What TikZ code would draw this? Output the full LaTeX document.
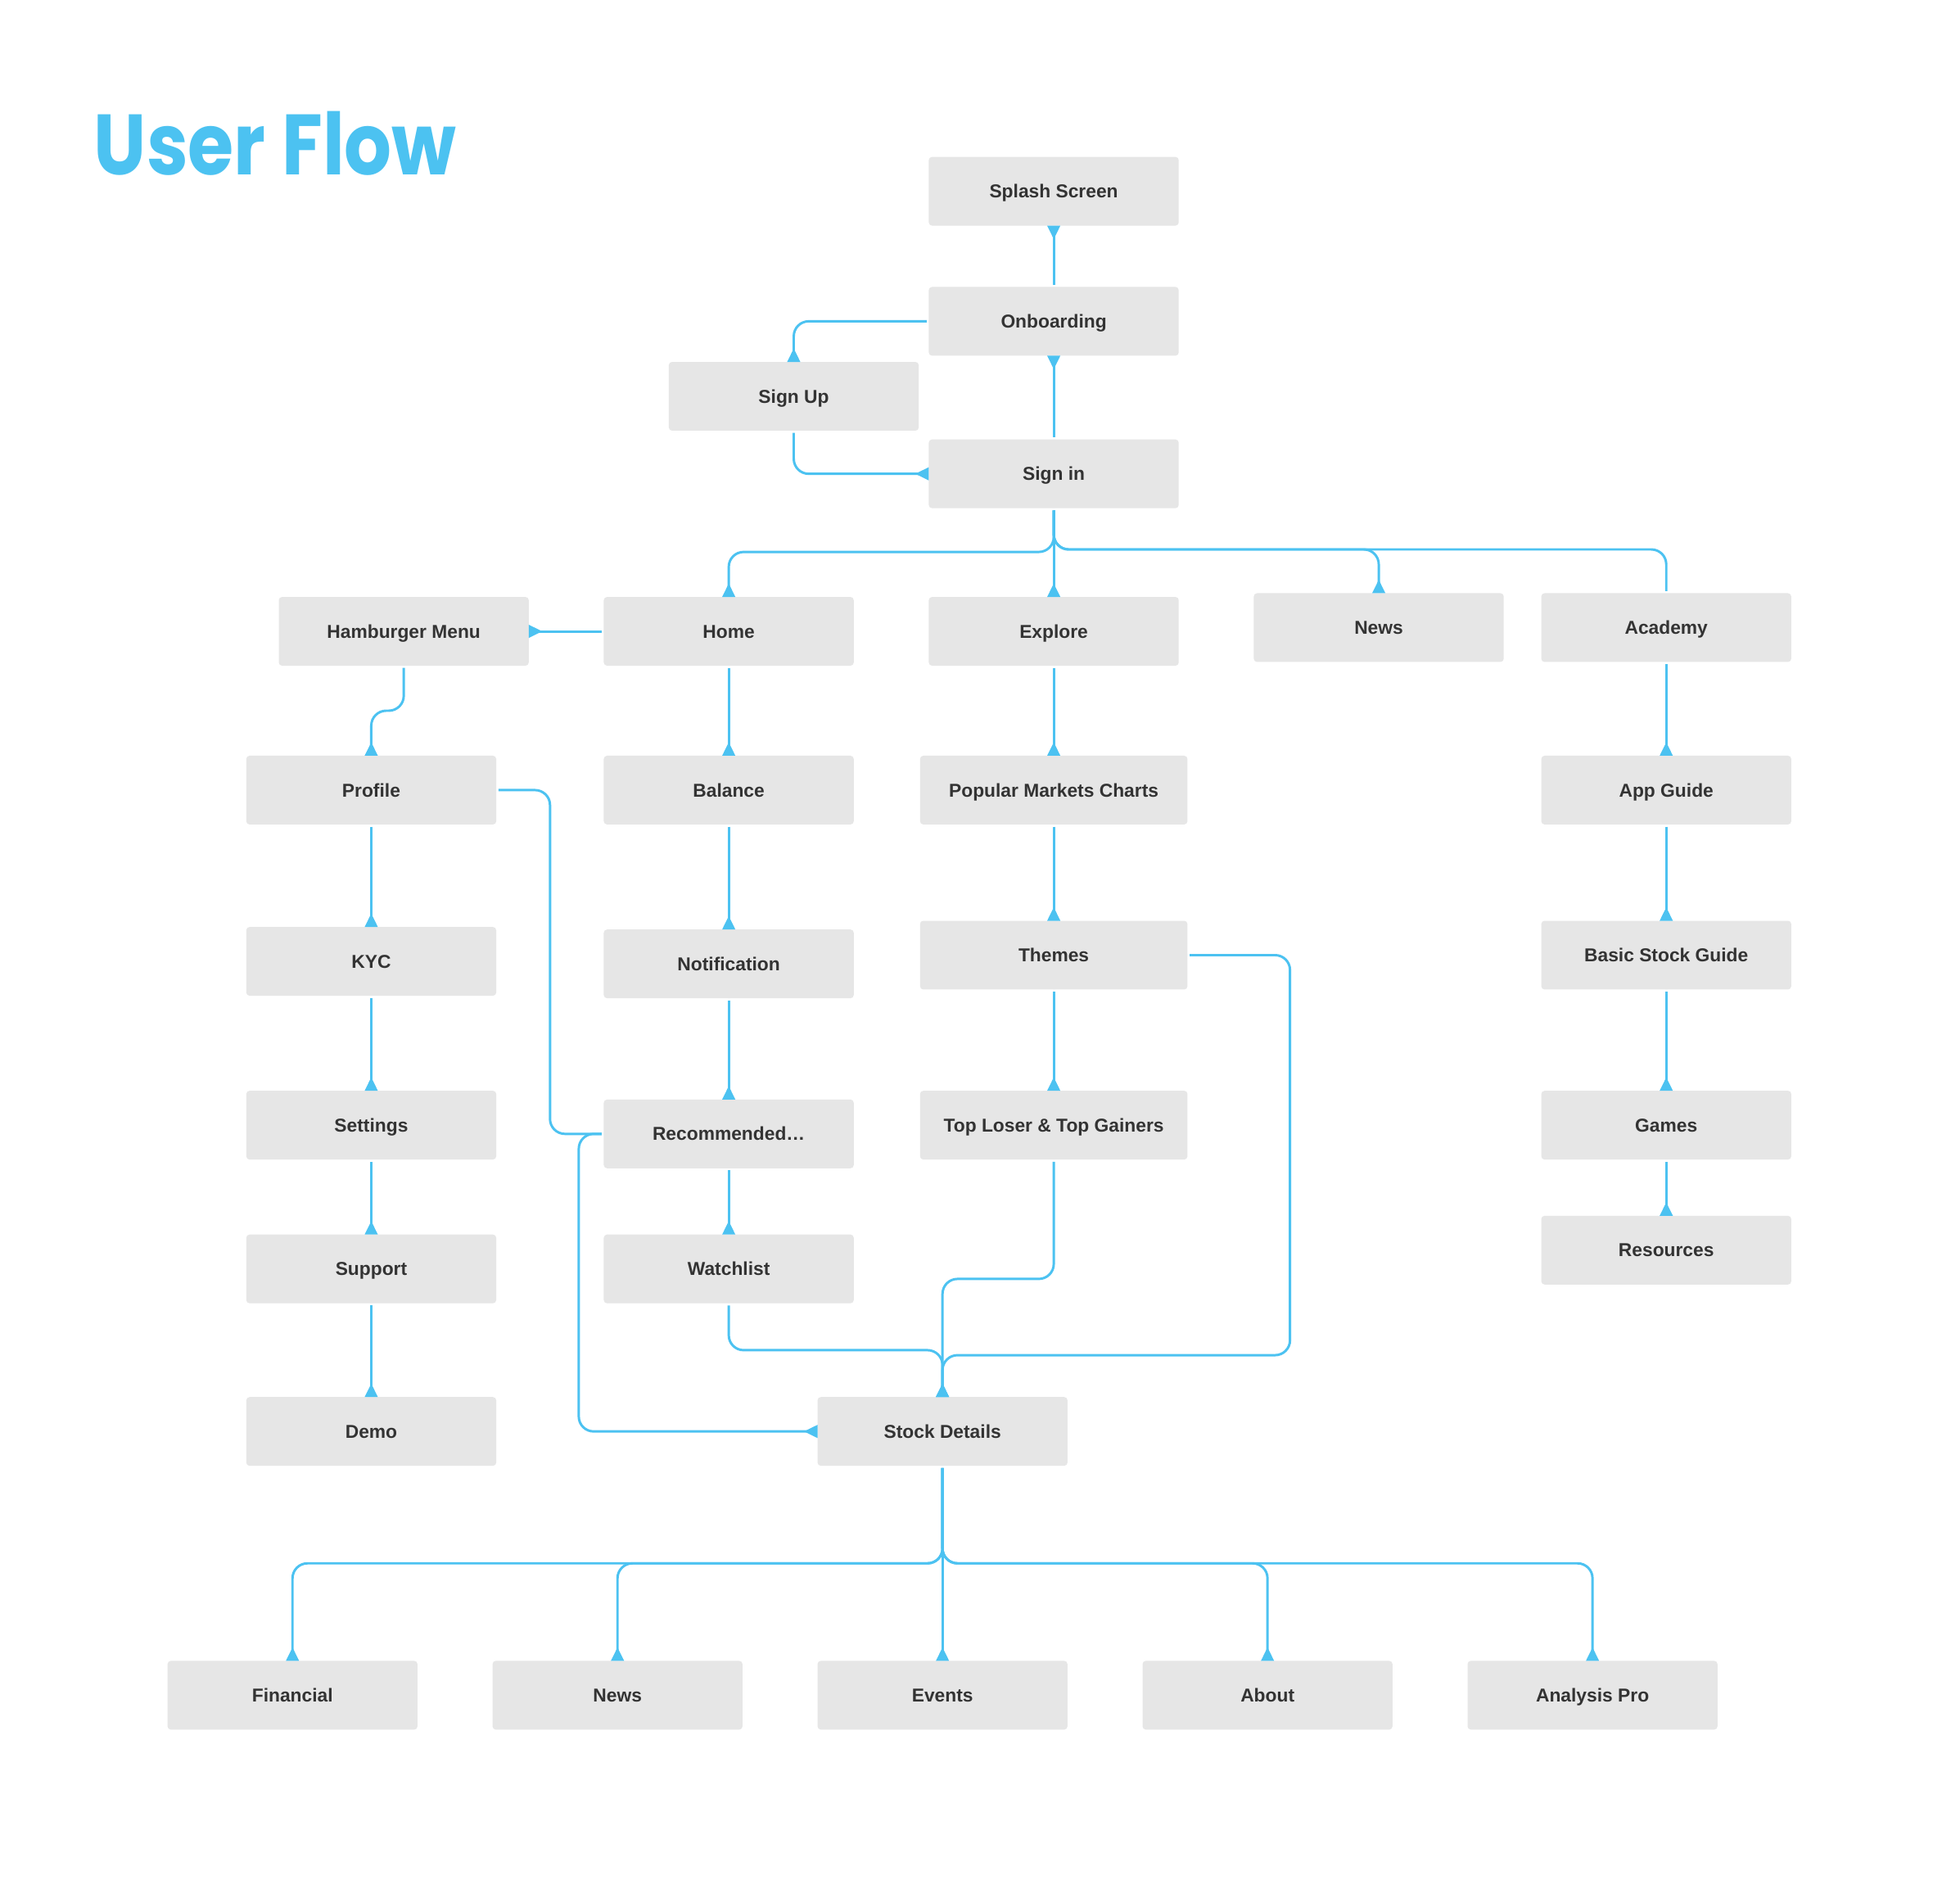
\documentclass[tikz,border=0pt]{standalone}
\usepackage{fontspec}
\setmainfont{Liberation Sans}
\newfontfamily\titlefont{Poppins}
\usetikzlibrary{arrows.meta}

\definecolor{flowblue}{HTML}{4CC2F1}
\definecolor{boxgray}{HTML}{E6E6E6}
\definecolor{labelgray}{HTML}{333333}

\begin{document}
\begin{tikzpicture}[x=0.02cm, y=-0.02cm,
    screen/.style={rectangle, rounded corners=1.5pt, fill=boxgray, minimum width=4cm, minimum height=1.1cm,
        inner sep=0pt, outer sep=0pt, text height=6.1pt, text depth=0pt, text=labelgray,
        font=\fontsize{8.5}{10}\selectfont\bfseries},
    wide/.style={screen, minimum width=4.28cm},
    link/.style={draw=flowblue, line width=1.1pt, rounded corners=6.8pt, shorten <=1pt, shorten >=1pt},
    flow/.style={link, shorten >=0pt, -{Triangle[reversed, length=6.2pt, width=5.7pt]}}]

    % Page
    \fill[white] (0,0) rectangle (1568,1511);
    \useasboundingbox (0,0) rectangle (1568,1511);

    % Title
    \node[anchor=base west, inner sep=0pt, text=flowblue, font=\titlefont\fontsize{39}{40}\selectfont\bfseries,
        xscale=0.87, transform shape] (title) at (75,140) {User Flow};

    % Sign in
    \node[screen] (splash) at (843,153) {Splash Screen};
    \node[screen] (onboard) at (843,257) {Onboarding};
    \node[screen] (signup) at (635,317) {Sign Up};
    \node[screen] (signin) at (843,379) {Sign in};

    % Main tabs
    \node[screen] (hamburger) at (323,505) {Hamburger Menu};
    \node[screen] (home) at (583,505) {Home};
    \node[screen] (explore) at (843,505) {Explore};
    \node[screen] (news) at (1103,502) {News};
    \node[screen] (academy) at (1333,502) {Academy};

    % Hamburger menu
    \node[screen] (profile) at (297,632) {Profile};
    \node[screen] (kyc) at (297,769) {KYC};
    \node[screen] (settings) at (297,900) {Settings};
    \node[screen] (support) at (297,1015) {Support};
    \node[screen] (demo) at (297,1145) {Demo};

    % Home
    \node[screen] (balance) at (583,632) {Balance};
    \node[screen] (notify) at (583,771) {Notification};
    \node[screen] (recommend) at (583,907) {Recommended…};
    \node[screen] (watchlist) at (583,1015) {Watchlist};

    % Explore
    \node[wide] (markets) at (843,632) {Popular Markets Charts};
    \node[wide] (themes) at (843,764) {Themes};
    \node[wide] (movers) at (843,900) {Top Loser \& Top Gainers};

    % Academy
    \node[screen] (appguide) at (1333,632) {App Guide};
    \node[screen] (stockguide) at (1333,764) {Basic Stock Guide};
    \node[screen] (games) at (1333,900) {Games};
    \node[screen] (resources) at (1333,1000) {Resources};

    % Stock details
    \node[screen] (stock) at (754,1145) {Stock Details};
    \node[screen] (financial) at (234,1356) {Financial};
    \node[screen] (stocknews) at (494,1356) {News};
    \node[screen] (events) at (754,1356) {Events};
    \node[screen] (about) at (1014,1356) {About};
    \node[screen] (analysis) at (1274,1356) {Analysis Pro};

    % Sign in links
    \draw[flow] (onboard.north) -- (splash.south);
    \draw[flow] (signin.north) -- (onboard.south);
    \draw[flow] (onboard.west) -| (signup.north);
    \draw[flow] (signup.south) |- (signin.west);

    % Tabs
    \draw[flow] (signin.south) -- ++(0,35) -| (home.north);
    \draw[flow] (signin.south) -- (explore.north);
    \draw[flow] (signin.south) -- ++(0,33) -| (news.north);
    \draw[link] (signin.south) -- ++(0,33) -| (academy.north);

    % Hamburger menu links
    \draw[flow] (home.west) -- (hamburger.east);
    \draw[flow] (hamburger.south) -- ++(0,36) -| (profile.north);
    \draw[flow] (profile.south) -- (kyc.north);
    \draw[flow] (kyc.south) -- (settings.north);
    \draw[flow] (settings.south) -- (support.north);
    \draw[flow] (support.south) -- (demo.north);
    \draw[link] (profile.east) -- (440,632) |- (recommend.west);

    % Home links
    \draw[flow] (home.south) -- (balance.north);
    \draw[flow] (balance.south) -- (notify.north);
    \draw[flow] (notify.south) -- (recommend.north);
    \draw[flow] (recommend.south) -- (watchlist.north);

    % Explore links
    \draw[flow] (explore.south) -- (markets.north);
    \draw[flow] (markets.south) -- (themes.north);
    \draw[flow] (themes.south) -- (movers.north);

    % Academy links
    \draw[flow] (academy.south) -- (appguide.north);
    \draw[flow] (appguide.south) -- (stockguide.north);
    \draw[flow] (stockguide.south) -- (games.north);
    \draw[flow] (games.south) -- (resources.north);

    % Into stock details
    \draw[flow] (recommend.west) -- (463,907) |- (stock.west);
    \draw[flow] (watchlist.south) |- (754,1080) -- (stock.north);
    \draw[flow] (movers.south) |- (754,1023) -- (stock.north);
    \draw[flow] (themes.east) -| (1032,1084) -| (stock.north);

    % Stock details pages
    \draw[flow] (stock.south) -- ++(0,78) -| (financial.north);
    \draw[flow] (stock.south) -- ++(0,78) -| (stocknews.north);
    \draw[flow] (stock.south) -- (events.north);
    \draw[flow] (stock.south) -- ++(0,78) -| (about.north);
    \draw[flow] (stock.south) -- ++(0,78) -| (analysis.north);
\end{tikzpicture}
\end{document}
